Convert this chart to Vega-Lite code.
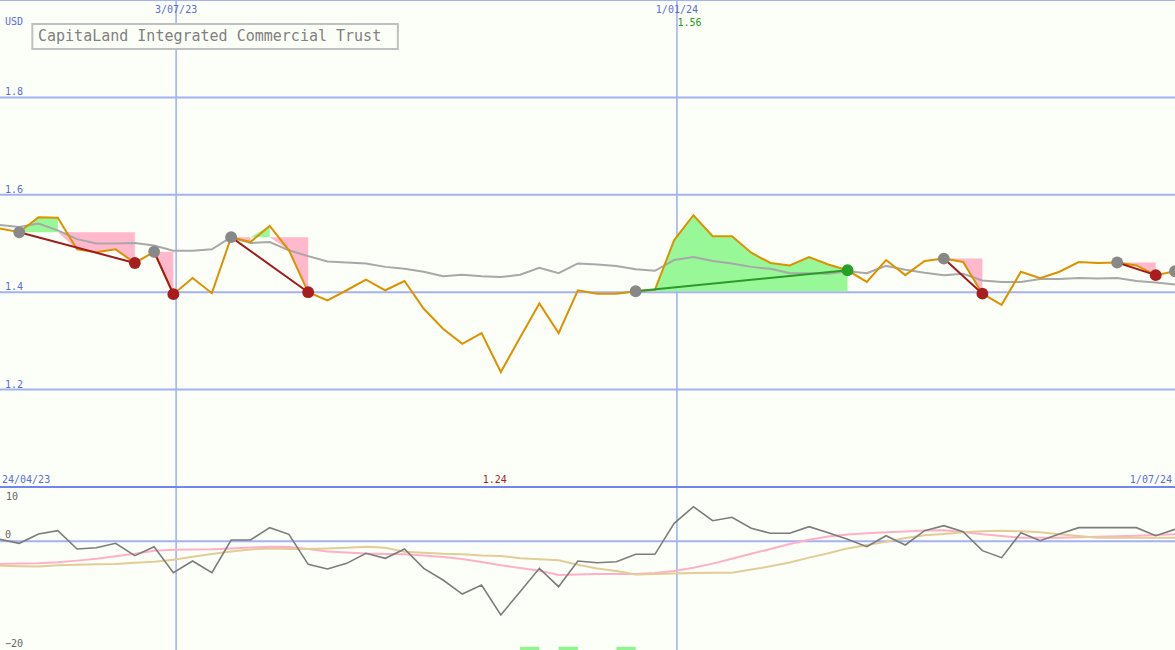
{
  "$schema": "https://vega.github.io/schema/vega-lite/v6.json",
  "width": 1175,
  "height": 650,
  "autosize": "none",
  "padding": 0,
  "background": "#fcfff8",
  "config": {"view": {"stroke": null}, "font": "DejaVu Sans Mono", "axis": {"disable": true}},
  "datasets": {
    "px": [
      {"d":"2023-04-30","close":1.531,"ma":1.538,"osc":0.37,"s1":-4.17,"s2":-4.48},
      {"d":"2023-05-07","close":1.523,"ma":1.534,"osc":-0.37,"s1":-4.10,"s2":-4.60},
      {"d":"2023-05-14","close":1.554,"ma":1.541,"osc":1.35,"s1":-4.05,"s2":-4.65},
      {"d":"2023-05-21","close":1.553,"ma":1.527,"osc":1.96,"s1":-3.85,"s2":-4.40},
      {"d":"2023-05-28","close":1.488,"ma":1.509,"osc":-1.41,"s1":-3.55,"s2":-4.30},
      {"d":"2023-06-04","close":1.482,"ma":1.500,"osc":-1.17,"s1":-3.20,"s2":-4.20},
      {"d":"2023-06-11","close":1.488,"ma":1.500,"osc":-0.37,"s1":-2.75,"s2":-4.15},
      {"d":"2023-06-18","close":1.460,"ma":1.501,"osc":-2.64,"s1":-2.30,"s2":-3.95},
      {"d":"2023-06-25","close":1.483,"ma":1.496,"osc":-0.98,"s1":-1.75,"s2":-3.75},
      {"d":"2023-07-02","close":1.396,"ma":1.485,"osc":-5.77,"s1":-1.55,"s2":-3.40},
      {"d":"2023-07-09","close":1.429,"ma":1.485,"osc":-3.62,"s1":-1.50,"s2":-2.85},
      {"d":"2023-07-16","close":1.398,"ma":1.488,"osc":-5.77,"s1":-1.47,"s2":-2.35},
      {"d":"2023-07-23","close":1.513,"ma":1.513,"osc":0.25,"s1":-1.30,"s2":-1.85},
      {"d":"2023-07-30","close":1.503,"ma":1.501,"osc":0.25,"s1":-1.15,"s2":-1.50},
      {"d":"2023-08-06","close":1.536,"ma":1.503,"osc":2.52,"s1":-1.00,"s2":-1.30},
      {"d":"2023-08-13","close":1.486,"ma":1.486,"osc":1.29,"s1":-1.05,"s2":-1.40},
      {"d":"2023-08-20","close":1.400,"ma":1.474,"osc":-4.23,"s1":-1.40,"s2":-1.40},
      {"d":"2023-08-27","close":1.383,"ma":1.463,"osc":-5.09,"s1":-1.85,"s2":-1.30},
      {"d":"2023-09-03","close":1.404,"ma":1.461,"osc":-4.05,"s1":-2.05,"s2":-1.20},
      {"d":"2023-09-10","close":1.426,"ma":1.459,"osc":-2.20,"s1":-2.25,"s2":-1.00},
      {"d":"2023-09-17","close":1.404,"ma":1.452,"osc":-3.12,"s1":-2.35,"s2":-1.20},
      {"d":"2023-09-24","close":1.423,"ma":1.448,"osc":-1.41,"s1":-2.40,"s2":-1.90},
      {"d":"2023-10-01","close":1.366,"ma":1.442,"osc":-4.97,"s1":-2.60,"s2":-2.10},
      {"d":"2023-10-08","close":1.325,"ma":1.433,"osc":-7.12,"s1":-2.90,"s2":-2.30},
      {"d":"2023-10-15","close":1.294,"ma":1.436,"osc":-9.70,"s1":-3.25,"s2":-2.40},
      {"d":"2023-10-22","close":1.316,"ma":1.433,"osc":-8.04,"s1":-3.80,"s2":-2.60},
      {"d":"2023-10-29","close":1.236,"ma":1.431,"osc":-13.56,"s1":-4.40,"s2":-2.70},
      {"d":"2023-11-05","close":1.307,"ma":1.436,"osc":-9.27,"s1":-4.90,"s2":-3.10},
      {"d":"2023-11-12","close":1.377,"ma":1.450,"osc":-4.97,"s1":-5.40,"s2":-3.30},
      {"d":"2023-11-19","close":1.316,"ma":1.439,"osc":-8.35,"s1":-6.20,"s2":-3.50},
      {"d":"2023-11-26","close":1.404,"ma":1.459,"osc":-3.62,"s1":-6.10,"s2":-4.30},
      {"d":"2023-12-03","close":1.397,"ma":1.457,"osc":-3.93,"s1":-6.00,"s2":-5.00},
      {"d":"2023-12-10","close":1.397,"ma":1.454,"osc":-3.75,"s1":-6.00,"s2":-5.45},
      {"d":"2023-12-17","close":1.402,"ma":1.447,"osc":-2.39,"s1":-6.00,"s2":-6.10},
      {"d":"2023-12-24","close":1.405,"ma":1.444,"osc":-2.39,"s1":-5.85,"s2":-6.00},
      {"d":"2023-12-31","close":1.507,"ma":1.466,"osc":3.31,"s1":-5.45,"s2":-5.90},
      {"d":"2024-01-07","close":1.558,"ma":1.472,"osc":6.37,"s1":-4.85,"s2":-5.85},
      {"d":"2024-01-14","close":1.515,"ma":1.464,"osc":3.80,"s1":-4.10,"s2":-5.80},
      {"d":"2024-01-21","close":1.515,"ma":1.459,"osc":4.42,"s1":-3.20,"s2":-5.77},
      {"d":"2024-01-28","close":1.481,"ma":1.452,"osc":2.40,"s1":-2.30,"s2":-5.20},
      {"d":"2024-02-04","close":1.460,"ma":1.448,"osc":1.48,"s1":-1.40,"s2":-4.60},
      {"d":"2024-02-11","close":1.455,"ma":1.439,"osc":1.48,"s1":-0.50,"s2":-3.90},
      {"d":"2024-02-18","close":1.472,"ma":1.439,"osc":2.70,"s1":0.30,"s2":-3.00},
      {"d":"2024-02-25","close":1.457,"ma":1.438,"osc":1.60,"s1":0.90,"s2":-2.20},
      {"d":"2024-03-03","close":1.445,"ma":1.443,"osc":0.37,"s1":1.25,"s2":-1.30},
      {"d":"2024-03-10","close":1.421,"ma":1.439,"osc":-0.98,"s1":1.50,"s2":-0.67},
      {"d":"2024-03-17","close":1.466,"ma":1.454,"osc":1.04,"s1":1.65,"s2":-0.10},
      {"d":"2024-03-24","close":1.435,"ma":1.446,"osc":-0.67,"s1":1.80,"s2":0.60},
      {"d":"2024-03-31","close":1.464,"ma":1.440,"osc":1.96,"s1":2.00,"s2":1.10},
      {"d":"2024-04-07","close":1.469,"ma":1.435,"osc":2.88,"s1":2.05,"s2":1.35},
      {"d":"2024-04-14","close":1.462,"ma":1.438,"osc":1.78,"s1":1.70,"s2":1.65},
      {"d":"2024-04-21","close":1.397,"ma":1.424,"osc":-1.72,"s1":1.30,"s2":1.85},
      {"d":"2024-04-28","close":1.374,"ma":1.421,"osc":-3.00,"s1":1.00,"s2":1.96},
      {"d":"2024-05-05","close":1.442,"ma":1.421,"osc":1.60,"s1":0.67,"s2":1.85},
      {"d":"2024-05-12","close":1.429,"ma":1.427,"osc":0.12,"s1":0.67,"s2":1.65},
      {"d":"2024-05-19","close":1.442,"ma":1.427,"osc":1.35,"s1":0.67,"s2":1.30},
      {"d":"2024-05-26","close":1.462,"ma":1.429,"osc":2.52,"s1":0.75,"s2":1.00},
      {"d":"2024-06-02","close":1.460,"ma":1.428,"osc":2.52,"s1":0.85,"s2":0.67},
      {"d":"2024-06-09","close":1.461,"ma":1.429,"osc":2.52,"s1":0.95,"s2":0.67},
      {"d":"2024-06-16","close":1.455,"ma":1.423,"osc":2.52,"s1":1.05,"s2":0.67},
      {"d":"2024-06-23","close":1.435,"ma":1.420,"osc":1.04,"s1":1.15,"s2":0.67},
      {"d":"2024-06-30","close":1.443,"ma":1.416,"osc":2.21,"s1":1.29,"s2":0.67}
    ],
    "fills": [
      {"seg":"A1","tone":"gain","d":"2023-05-07","top":1.523,"base":1.523},
      {"seg":"A1","tone":"gain","d":"2023-05-14","top":1.554,"base":1.523},
      {"seg":"A1","tone":"gain","d":"2023-05-21","top":1.553,"base":1.523},
      {"seg":"A2","tone":"loss","d":"2023-05-21","top":1.523,"base":1.523},
      {"seg":"A2","tone":"loss","d":"2023-05-28","top":1.488,"base":1.523},
      {"seg":"A2","tone":"loss","d":"2023-06-04","top":1.482,"base":1.523},
      {"seg":"A2","tone":"loss","d":"2023-06-11","top":1.488,"base":1.523},
      {"seg":"A2","tone":"loss","d":"2023-06-18","top":1.460,"base":1.523},
      {"seg":"B1","tone":"loss","d":"2023-06-25","top":1.483,"base":1.483},
      {"seg":"B1","tone":"loss","d":"2023-07-02","top":1.396,"base":1.483},
      {"seg":"C1","tone":"loss","d":"2023-07-23","top":1.513,"base":1.513},
      {"seg":"C1","tone":"loss","d":"2023-07-30","top":1.503,"base":1.513},
      {"seg":"C2","tone":"gain","d":"2023-07-30","top":1.513,"base":1.513},
      {"seg":"C2","tone":"gain","d":"2023-08-06","top":1.536,"base":1.513},
      {"seg":"C3","tone":"loss","d":"2023-08-06","top":1.513,"base":1.513},
      {"seg":"C3","tone":"loss","d":"2023-08-13","top":1.486,"base":1.513},
      {"seg":"C3","tone":"loss","d":"2023-08-20","top":1.400,"base":1.513},
      {"seg":"D1","tone":"gain","d":"2023-12-17","top":1.402,"base":1.402},
      {"seg":"D1","tone":"gain","d":"2023-12-24","top":1.405,"base":1.402},
      {"seg":"D1","tone":"gain","d":"2023-12-31","top":1.507,"base":1.402},
      {"seg":"D1","tone":"gain","d":"2024-01-07","top":1.558,"base":1.402},
      {"seg":"D1","tone":"gain","d":"2024-01-14","top":1.515,"base":1.402},
      {"seg":"D1","tone":"gain","d":"2024-01-21","top":1.515,"base":1.402},
      {"seg":"D1","tone":"gain","d":"2024-01-28","top":1.481,"base":1.402},
      {"seg":"D1","tone":"gain","d":"2024-02-04","top":1.460,"base":1.402},
      {"seg":"D1","tone":"gain","d":"2024-02-11","top":1.455,"base":1.402},
      {"seg":"D1","tone":"gain","d":"2024-02-18","top":1.472,"base":1.402},
      {"seg":"D1","tone":"gain","d":"2024-02-25","top":1.457,"base":1.402},
      {"seg":"D1","tone":"gain","d":"2024-03-03","top":1.445,"base":1.402},
      {"seg":"E1","tone":"loss","d":"2024-04-07","top":1.469,"base":1.469},
      {"seg":"E1","tone":"loss","d":"2024-04-14","top":1.462,"base":1.469},
      {"seg":"E1","tone":"loss","d":"2024-04-21","top":1.397,"base":1.469},
      {"seg":"F1","tone":"loss","d":"2024-06-09","top":1.461,"base":1.461},
      {"seg":"F1","tone":"loss","d":"2024-06-16","top":1.455,"base":1.461},
      {"seg":"F1","tone":"loss","d":"2024-06-23","top":1.435,"base":1.461}
    ],
    "trades": [
      {"d0":"2023-05-07","p0":1.523,"d1":"2023-06-18","p1":1.460,"result":"loss"},
      {"d0":"2023-06-25","p0":1.483,"d1":"2023-07-02","p1":1.396,"result":"loss"},
      {"d0":"2023-07-23","p0":1.513,"d1":"2023-08-20","p1":1.400,"result":"loss"},
      {"d0":"2023-12-17","p0":1.402,"d1":"2024-03-03","p1":1.445,"result":"gain"},
      {"d0":"2024-04-07","p0":1.469,"d1":"2024-04-21","p1":1.397,"result":"loss"},
      {"d0":"2024-06-09","p0":1.461,"d1":"2024-06-23","p1":1.435,"result":"loss"}
    ],
    "signals": [
      {"d":"2023-05-07","price":1.523,"kind":"entry"},
      {"d":"2023-06-18","price":1.460,"kind":"loss"},
      {"d":"2023-06-25","price":1.483,"kind":"entry"},
      {"d":"2023-07-02","price":1.396,"kind":"loss"},
      {"d":"2023-07-23","price":1.513,"kind":"entry"},
      {"d":"2023-08-20","price":1.400,"kind":"loss"},
      {"d":"2023-12-17","price":1.402,"kind":"entry"},
      {"d":"2024-03-03","price":1.445,"kind":"gain"},
      {"d":"2024-04-07","price":1.469,"kind":"entry"},
      {"d":"2024-04-21","price":1.397,"kind":"loss"},
      {"d":"2024-06-09","price":1.461,"kind":"entry"},
      {"d":"2024-06-23","price":1.435,"kind":"loss"},
      {"d":"2024-06-30","price":1.443,"kind":"entry"}
    ],
    "bars": [
      {"start":"2023-11-05","end":"2023-11-12"},
      {"start":"2023-11-19","end":"2023-11-26"},
      {"start":"2023-12-10","end":"2023-12-17"}
    ],
    "vlines": [
      {"d":"2023-07-03","lab":"3/07/23"},
      {"d":"2024-01-01","lab":"1/01/24"}
    ],
    "edges": [
      {"d":"2023-04-30","lab":"24/04/23","side":"start"},
      {"d":"2024-06-30","lab":"1/07/24","side":"end"}
    ]
  },
  "resolve": {"scale": {"y": "independent", "color": "independent", "fill": "independent", "stroke": "independent"}},
  "layer": [
    {
      "data": {"values": [{"level":1.2},{"level":1.4},{"level":1.6},{"level":1.8},{"level":2.0}]},
      "mark": {"type": "rule", "color": "#a4b2f2", "strokeWidth": 2, "clip": true},
      "encoding": {
        "y": {"field": "level", "type": "quantitative", "axis": null, "scale": {"domain": [1, 2], "range": [487, 0], "zero": false, "nice": false}}
      }
    },
    {
      "data": {"values": [{"level":1.2},{"level":1.4},{"level":1.6},{"level":1.8}]},
      "mark": {"type": "text", "align": "left", "baseline": "alphabetic", "dx": 5, "dy": -2, "fontSize": 10, "color": "#5b6be0"},
      "encoding": {
        "x": {"datum": "2023-04-30", "type": "temporal", "axis": null, "scale": {"domain": ["2023-04-30", "2024-06-30"]}},
        "y": {"field": "level", "type": "quantitative", "axis": null, "scale": {"domain": [1, 2], "range": [487, 0], "zero": false, "nice": false}},
        "text": {"field": "level", "type": "quantitative", "format": ".1f"}
      }
    },
    {
      "data": {"name": "vlines"},
      "mark": {"type": "rule", "color": "#a4b2f2", "strokeWidth": 1.6},
      "encoding": {
        "x": {"field": "d", "type": "temporal", "axis": null, "scale": {"domain": ["2023-04-30", "2024-06-30"]}}
      }
    },
    {
      "data": {"name": "vlines"},
      "mark": {"type": "text", "align": "center", "baseline": "alphabetic", "dy": 13, "fontSize": 10, "color": "#5b6be0"},
      "encoding": {
        "x": {"field": "d", "type": "temporal", "axis": null},
        "y": {"datum": 2, "type": "quantitative", "axis": null, "scale": {"domain": [1, 2], "range": [487, 0], "zero": false, "nice": false}},
        "text": {"field": "lab"}
      }
    },
    {
      "data": {"name": "fills"},
      "mark": {"type": "area", "opacity": 1},
      "encoding": {
        "x": {"field": "d", "type": "temporal", "axis": null},
        "y": {"field": "top", "type": "quantitative", "axis": null, "scale": {"domain": [1, 2], "range": [487, 0], "zero": false, "nice": false}},
        "y2": {"field": "base"},
        "color": {"field": "tone", "type": "nominal", "legend": null, "scale": {"domain": ["gain", "loss"], "range": ["#98f898", "#ffb8cc"]}},
        "detail": {"field": "seg"}
      }
    },
    {
      "data": {"name": "px"},
      "mark": {"type": "line", "color": "#a8a8a8", "strokeWidth": 2, "clip": true},
      "encoding": {
        "x": {"field": "d", "type": "temporal", "axis": null},
        "y": {"field": "ma", "type": "quantitative", "axis": null, "scale": {"domain": [1, 2], "range": [487, 0], "zero": false, "nice": false}}
      }
    },
    {
      "data": {"name": "px"},
      "mark": {"type": "line", "color": "#dc9200", "strokeWidth": 2, "clip": true},
      "encoding": {
        "x": {"field": "d", "type": "temporal", "axis": null},
        "y": {"field": "close", "type": "quantitative", "axis": null, "scale": {"domain": [1, 2], "range": [487, 0], "zero": false, "nice": false}}
      }
    },
    {
      "data": {"name": "trades"},
      "mark": {"type": "rule", "strokeWidth": 2},
      "encoding": {
        "x": {"field": "d0", "type": "temporal", "axis": null},
        "x2": {"field": "d1"},
        "y": {"field": "p0", "type": "quantitative", "axis": null, "scale": {"domain": [1, 2], "range": [487, 0], "zero": false, "nice": false}},
        "y2": {"field": "p1"},
        "stroke": {"field": "result", "type": "nominal", "legend": null, "scale": {"domain": ["gain", "loss"], "range": ["#2a9a2a", "#a01c1c"]}}
      }
    },
    {
      "data": {"name": "signals"},
      "mark": {"type": "circle", "size": 140, "opacity": 1, "clip": true},
      "encoding": {
        "x": {"field": "d", "type": "temporal", "axis": null},
        "y": {"field": "price", "type": "quantitative", "axis": null, "scale": {"domain": [1, 2], "range": [487, 0], "zero": false, "nice": false}},
        "fill": {"field": "kind", "type": "nominal", "legend": null, "scale": {"domain": ["entry", "loss", "gain"], "range": ["#888888", "#a81e1e", "#26a026"]}}
      }
    },
    {
      "data": {"values": [{"lab": "USD"}]},
      "mark": {"type": "text", "align": "left", "baseline": "alphabetic", "dx": 5, "dy": 25, "fontSize": 10, "color": "#5b6be0"},
      "encoding": {
        "x": {"datum": "2023-04-30", "type": "temporal", "axis": null},
        "y": {"datum": 2, "type": "quantitative", "axis": null, "scale": {"domain": [1, 2], "range": [487, 0], "zero": false, "nice": false}},
        "text": {"field": "lab"}
      }
    },
    {
      "data": {"values": [{"name": "CapitaLand Integrated Commercial Trust", "from": "2023-05-11T18:00:00Z", "to": "2023-09-21T14:00:00Z"}]},
      "mark": {"type": "rect", "fill": "#fcfff8", "stroke": "#c0c0c0", "strokeWidth": 2},
      "encoding": {
        "x": {"field": "from", "type": "temporal", "axis": null},
        "x2": {"field": "to"},
        "y": {"datum": 1.9507, "type": "quantitative", "axis": null, "scale": {"domain": [1, 2], "range": [487, 0], "zero": false, "nice": false}},
        "y2": {"datum": 1.8994}
      }
    },
    {
      "data": {"values": [{"name": "CapitaLand Integrated Commercial Trust"}]},
      "mark": {"type": "text", "align": "left", "baseline": "alphabetic", "dx": 38, "dy": 41, "fontSize": 15, "color": "#808080"},
      "encoding": {
        "x": {"datum": "2023-04-30", "type": "temporal", "axis": null},
        "y": {"datum": 2, "type": "quantitative", "axis": null, "scale": {"domain": [1, 2], "range": [487, 0], "zero": false, "nice": false}},
        "text": {"field": "name"}
      }
    },
    {
      "data": {"values": [{"d": "2024-01-07", "v": 1.56}]},
      "mark": {"type": "text", "align": "center", "baseline": "alphabetic", "dx": -4, "dy": 26, "fontSize": 10, "color": "#22a022"},
      "encoding": {
        "x": {"field": "d", "type": "temporal", "axis": null},
        "y": {"datum": 2, "type": "quantitative", "axis": null, "scale": {"domain": [1, 2], "range": [487, 0], "zero": false, "nice": false}},
        "text": {"field": "v", "type": "quantitative", "format": ".2f"}
      }
    },
    {
      "data": {"values": [{"d": "2023-10-29", "v": 1.24}]},
      "mark": {"type": "text", "align": "center", "baseline": "alphabetic", "dx": -6, "dy": -4, "fontSize": 10, "color": "#a81e1e"},
      "encoding": {
        "x": {"field": "d", "type": "temporal", "axis": null},
        "y": {"datum": 1, "type": "quantitative", "axis": null, "scale": {"domain": [1, 2], "range": [487, 0], "zero": false, "nice": false}},
        "text": {"field": "v", "type": "quantitative", "format": ".2f"}
      }
    },
    {
      "data": {"name": "edges"},
      "transform": [{"filter": "datum.side === 'start'"}],
      "mark": {"type": "text", "align": "left", "baseline": "alphabetic", "dx": 2, "dy": -4, "fontSize": 10, "color": "#5b6be0"},
      "encoding": {
        "x": {"field": "d", "type": "temporal", "axis": null},
        "y": {"datum": 1, "type": "quantitative", "axis": null, "scale": {"domain": [1, 2], "range": [487, 0], "zero": false, "nice": false}},
        "text": {"field": "lab"}
      }
    },
    {
      "data": {"name": "edges"},
      "transform": [{"filter": "datum.side === 'end'"}],
      "mark": {"type": "text", "align": "right", "baseline": "alphabetic", "dx": -3, "dy": -4, "fontSize": 10, "color": "#5b6be0"},
      "encoding": {
        "x": {"field": "d", "type": "temporal", "axis": null},
        "y": {"datum": 1, "type": "quantitative", "axis": null, "scale": {"domain": [1, 2], "range": [487, 0], "zero": false, "nice": false}},
        "text": {"field": "lab"}
      }
    },
    {
      "data": {"values": [{"level": 0}]},
      "mark": {"type": "rule", "color": "#a4b2f2", "strokeWidth": 2},
      "encoding": {
        "y": {"field": "level", "type": "quantitative", "axis": null, "scale": {"domain": [-20, 10], "range": [650, 487], "zero": false, "nice": false}}
      }
    },
    {
      "data": {"values": [{"level": 10}]},
      "mark": {"type": "text", "align": "left", "baseline": "top", "dx": 6, "dy": 5, "fontSize": 10, "color": "#666666"},
      "encoding": {
        "x": {"datum": "2023-04-30", "type": "temporal", "axis": null},
        "y": {"field": "level", "type": "quantitative", "axis": null, "scale": {"domain": [-20, 10], "range": [650, 487], "zero": false, "nice": false}},
        "text": {"field": "level", "type": "quantitative"}
      }
    },
    {
      "data": {"values": [{"level": 0}, {"level": -20}]},
      "mark": {"type": "text", "align": "left", "baseline": "alphabetic", "dx": 5, "dy": -3, "fontSize": 10, "color": "#666666"},
      "encoding": {
        "x": {"datum": "2023-04-30", "type": "temporal", "axis": null},
        "y": {"field": "level", "type": "quantitative", "axis": null, "scale": {"domain": [-20, 10], "range": [650, 487], "zero": false, "nice": false}},
        "text": {"field": "level", "type": "quantitative"}
      }
    },
    {
      "data": {"name": "px"},
      "mark": {"type": "line", "color": "#ffb0c8", "strokeWidth": 2, "clip": true},
      "encoding": {
        "x": {"field": "d", "type": "temporal", "axis": null},
        "y": {"field": "s1", "type": "quantitative", "axis": null, "scale": {"domain": [-20, 10], "range": [650, 487], "zero": false, "nice": false}}
      }
    },
    {
      "data": {"name": "px"},
      "mark": {"type": "line", "color": "#e2cc98", "strokeWidth": 2, "clip": true},
      "encoding": {
        "x": {"field": "d", "type": "temporal", "axis": null},
        "y": {"field": "s2", "type": "quantitative", "axis": null, "scale": {"domain": [-20, 10], "range": [650, 487], "zero": false, "nice": false}}
      }
    },
    {
      "data": {"name": "px"},
      "mark": {"type": "line", "color": "#7c7c7c", "strokeWidth": 1.6, "clip": true},
      "encoding": {
        "x": {"field": "d", "type": "temporal", "axis": null},
        "y": {"field": "osc", "type": "quantitative", "axis": null, "scale": {"domain": [-20, 10], "range": [650, 487], "zero": false, "nice": false}}
      }
    },
    {
      "data": {"name": "bars"},
      "mark": {"type": "rect", "color": "#90f490"},
      "encoding": {
        "x": {"field": "start", "type": "temporal", "axis": null},
        "x2": {"field": "end"},
        "y": {"datum": -20, "type": "quantitative", "axis": null, "scale": {"domain": [-20, 10], "range": [650, 487], "zero": false, "nice": false}},
        "y2": {"datum": -19.4}
      }
    },
    {
      "data": {"values": [{"lab": "2026 share-o-matic.com"}]},
      "mark": {"type": "text", "align": "right", "baseline": "alphabetic", "dx": -3, "dy": 13, "fontSize": 11.5, "fontWeight": "bold", "color": "#c4c4c4"},
      "encoding": {
        "x": {"datum": "2024-06-30", "type": "temporal", "axis": null},
        "y": {"datum": 10, "type": "quantitative", "axis": null, "scale": {"domain": [-20, 10], "range": [650, 487], "zero": false, "nice": false}},
        "text": {"field": "lab"}
      }
    },
    {
      "data": {"values": [{"level": 10}]},
      "mark": {"type": "rule", "color": "#7384ea", "strokeWidth": 2},
      "encoding": {
        "y": {"field": "level", "type": "quantitative", "axis": null, "scale": {"domain": [-20, 10], "range": [650, 487], "zero": false, "nice": false}}
      }
    }
  ]
}
